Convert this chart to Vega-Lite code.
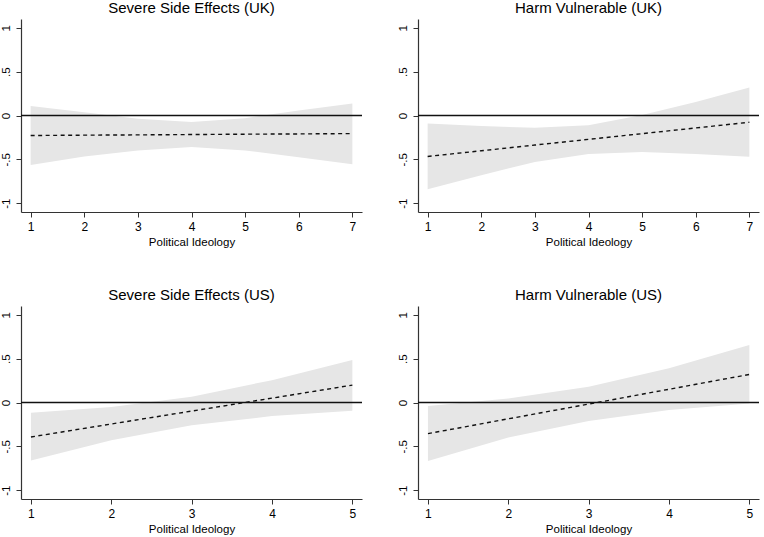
{
  "$schema": "https://vega.github.io/schema/vega-lite/v6.json",
  "padding": {"left": 0, "top": 1, "right": 0, "bottom": 0},
  "datasets": {
    "d": [
      {"panel": "A", "x": 1, "lo": -0.563, "hi": 0.107, "est": -0.228},
      {"panel": "A", "x": 2, "lo": -0.467, "hi": 0.038, "est": -0.224},
      {"panel": "A", "x": 3, "lo": -0.398, "hi": -0.038, "est": -0.221},
      {"panel": "A", "x": 4, "lo": -0.36, "hi": -0.073, "est": -0.217},
      {"panel": "A", "x": 5, "lo": -0.398, "hi": -0.03, "est": -0.213},
      {"panel": "A", "x": 6, "lo": -0.475, "hi": 0.057, "est": -0.21},
      {"panel": "A", "x": 7, "lo": -0.556, "hi": 0.138, "est": -0.206},
      {"panel": "B", "x": 1, "lo": -0.84, "hi": -0.092, "est": -0.467},
      {"panel": "B", "x": 2, "lo": -0.68, "hi": -0.12, "est": -0.402},
      {"panel": "B", "x": 3, "lo": -0.53, "hi": -0.14, "est": -0.337},
      {"panel": "B", "x": 4, "lo": -0.44, "hi": -0.11, "est": -0.272},
      {"panel": "B", "x": 5, "lo": -0.415, "hi": 0.005, "est": -0.207},
      {"panel": "B", "x": 6, "lo": -0.44, "hi": 0.155, "est": -0.142},
      {"panel": "B", "x": 7, "lo": -0.47, "hi": 0.32, "est": -0.077},
      {"panel": "C", "x": 1, "lo": -0.66, "hi": -0.118, "est": -0.393},
      {"panel": "C", "x": 2, "lo": -0.43, "hi": -0.05, "est": -0.245},
      {"panel": "C", "x": 3, "lo": -0.26, "hi": 0.065, "est": -0.098},
      {"panel": "C", "x": 4, "lo": -0.155, "hi": 0.255, "est": 0.05},
      {"panel": "C", "x": 5, "lo": -0.095, "hi": 0.485, "est": 0.198},
      {"panel": "D", "x": 1, "lo": -0.668, "hi": -0.04, "est": -0.355},
      {"panel": "D", "x": 2, "lo": -0.4, "hi": 0.045, "est": -0.186},
      {"panel": "D", "x": 3, "lo": -0.21, "hi": 0.18, "est": -0.018},
      {"panel": "D", "x": 4, "lo": -0.085, "hi": 0.39, "est": 0.151},
      {"panel": "D", "x": 5, "lo": -0.01, "hi": 0.656, "est": 0.32}
    ]
  },
  "columns": 2,
  "spacing": {"row": 40, "column": 34},
  "concat": [
    {
      "width": 341, "height": 193,
      "title": "Severe Side Effects (UK)",
      "layer": [
        {
          "data": {"name": "d"},
          "transform": [{"filter": "datum.panel === 'A'"}],
          "mark": {"type": "area", "color": "#e6e6e6", "opacity": 1},
          "encoding": {
            "x": {"field": "x", "type": "quantitative", "scale": {"domain": [0.82, 7.18], "nice": false, "zero": false}, "axis": {"values": [1, 2, 3, 4, 5, 6, 7], "format": "d", "title": "Political Ideology"}},
            "y": {"field": "lo", "type": "quantitative", "scale": {"domain": [-1.1, 1.1], "nice": false, "zero": false}, "axis": {"values": [-1, -0.5, 0, 0.5, 1], "title": null, "labelExpr": "datum.value == 1 ? '1' : datum.value == 0.5 ? '.5' : datum.value == 0 ? '0' : datum.value == -0.5 ? '-.5' : '-1'"}},
            "y2": {"field": "hi"}
          }
        },
        {
          "data": {"values": [{"zero": 0}]},
          "mark": {"type": "rule", "color": "#111", "strokeWidth": 1.3},
          "encoding": {"y": {"field": "zero", "type": "quantitative"}}
        },
        {
          "data": {"name": "d"},
          "transform": [{"filter": "datum.panel === 'A'"}],
          "mark": {"type": "line", "color": "#111", "strokeWidth": 1.4, "strokeDash": [4, 3.5]},
          "encoding": {
            "x": {"field": "x", "type": "quantitative"},
            "y": {"field": "est", "type": "quantitative"}
          }
        }
      ]
    },
    {
      "width": 341, "height": 193,
      "title": "Harm Vulnerable (UK)",
      "layer": [
        {
          "data": {"name": "d"},
          "transform": [{"filter": "datum.panel === 'B'"}],
          "mark": {"type": "area", "color": "#e6e6e6", "opacity": 1},
          "encoding": {
            "x": {"field": "x", "type": "quantitative", "scale": {"domain": [0.82, 7.18], "nice": false, "zero": false}, "axis": {"values": [1, 2, 3, 4, 5, 6, 7], "format": "d", "title": "Political Ideology"}},
            "y": {"field": "lo", "type": "quantitative", "scale": {"domain": [-1.1, 1.1], "nice": false, "zero": false}, "axis": {"values": [-1, -0.5, 0, 0.5, 1], "title": null, "labelExpr": "datum.value == 1 ? '1' : datum.value == 0.5 ? '.5' : datum.value == 0 ? '0' : datum.value == -0.5 ? '-.5' : '-1'"}},
            "y2": {"field": "hi"}
          }
        },
        {
          "data": {"values": [{"zero": 0}]},
          "mark": {"type": "rule", "color": "#111", "strokeWidth": 1.3},
          "encoding": {"y": {"field": "zero", "type": "quantitative"}}
        },
        {
          "data": {"name": "d"},
          "transform": [{"filter": "datum.panel === 'B'"}],
          "mark": {"type": "line", "color": "#111", "strokeWidth": 1.4, "strokeDash": [4, 3.5]},
          "encoding": {
            "x": {"field": "x", "type": "quantitative"},
            "y": {"field": "est", "type": "quantitative"}
          }
        }
      ]
    },
    {
      "width": 341, "height": 193,
      "title": "Severe Side Effects (US)",
      "layer": [
        {
          "data": {"name": "d"},
          "transform": [{"filter": "datum.panel === 'C'"}],
          "mark": {"type": "area", "color": "#e6e6e6", "opacity": 1},
          "encoding": {
            "x": {"field": "x", "type": "quantitative", "scale": {"domain": [0.876, 5.12], "nice": false, "zero": false}, "axis": {"values": [1, 2, 3, 4, 5], "format": "d", "title": "Political Ideology"}},
            "y": {"field": "lo", "type": "quantitative", "scale": {"domain": [-1.1, 1.1], "nice": false, "zero": false}, "axis": {"values": [-1, -0.5, 0, 0.5, 1], "title": null, "labelExpr": "datum.value == 1 ? '1' : datum.value == 0.5 ? '.5' : datum.value == 0 ? '0' : datum.value == -0.5 ? '-.5' : '-1'"}},
            "y2": {"field": "hi"}
          }
        },
        {
          "data": {"values": [{"zero": 0}]},
          "mark": {"type": "rule", "color": "#111", "strokeWidth": 1.3},
          "encoding": {"y": {"field": "zero", "type": "quantitative"}}
        },
        {
          "data": {"name": "d"},
          "transform": [{"filter": "datum.panel === 'C'"}],
          "mark": {"type": "line", "color": "#111", "strokeWidth": 1.4, "strokeDash": [4, 3.5]},
          "encoding": {
            "x": {"field": "x", "type": "quantitative"},
            "y": {"field": "est", "type": "quantitative"}
          }
        }
      ]
    },
    {
      "width": 341, "height": 193,
      "title": "Harm Vulnerable (US)",
      "layer": [
        {
          "data": {"name": "d"},
          "transform": [{"filter": "datum.panel === 'D'"}],
          "mark": {"type": "area", "color": "#e6e6e6", "opacity": 1},
          "encoding": {
            "x": {"field": "x", "type": "quantitative", "scale": {"domain": [0.876, 5.12], "nice": false, "zero": false}, "axis": {"values": [1, 2, 3, 4, 5], "format": "d", "title": "Political Ideology"}},
            "y": {"field": "lo", "type": "quantitative", "scale": {"domain": [-1.1, 1.1], "nice": false, "zero": false}, "axis": {"values": [-1, -0.5, 0, 0.5, 1], "title": null, "labelExpr": "datum.value == 1 ? '1' : datum.value == 0.5 ? '.5' : datum.value == 0 ? '0' : datum.value == -0.5 ? '-.5' : '-1'"}},
            "y2": {"field": "hi"}
          }
        },
        {
          "data": {"values": [{"zero": 0}]},
          "mark": {"type": "rule", "color": "#111", "strokeWidth": 1.3},
          "encoding": {"y": {"field": "zero", "type": "quantitative"}}
        },
        {
          "data": {"name": "d"},
          "transform": [{"filter": "datum.panel === 'D'"}],
          "mark": {"type": "line", "color": "#111", "strokeWidth": 1.4, "strokeDash": [4, 3.5]},
          "encoding": {
            "x": {"field": "x", "type": "quantitative"},
            "y": {"field": "est", "type": "quantitative"}
          }
        }
      ]
    }
  ],
  "config": {
    "view": {"stroke": null},
    "background": "white",
    "font": "Liberation Sans",
    "title": {"font": "Liberation Sans", "fontSize": 15, "fontWeight": "normal", "color": "#000", "offset": 3},
    "axis": {
      "grid": false,
      "domainColor": "#333",
      "domainWidth": 1.2,
      "tickColor": "#333",
      "tickSize": 5,
      "tickWidth": 1,
      "labelColor": "#000",
      "labelFont": "Liberation Sans",
      "labelFontSize": 12,
      "labelPadding": 4,
      "labelFlush": false,
      "titleFont": "Liberation Sans",
      "titleFontSize": 11.5,
      "titleFontWeight": "normal",
      "titleColor": "#000",
      "titlePadding": 4
    },
    "axisY": {"labelAngle": 270, "labelAlign": "center", "labelBaseline": "bottom", "labelPadding": 5, "labelFontSize": 11.5}
  }
}
